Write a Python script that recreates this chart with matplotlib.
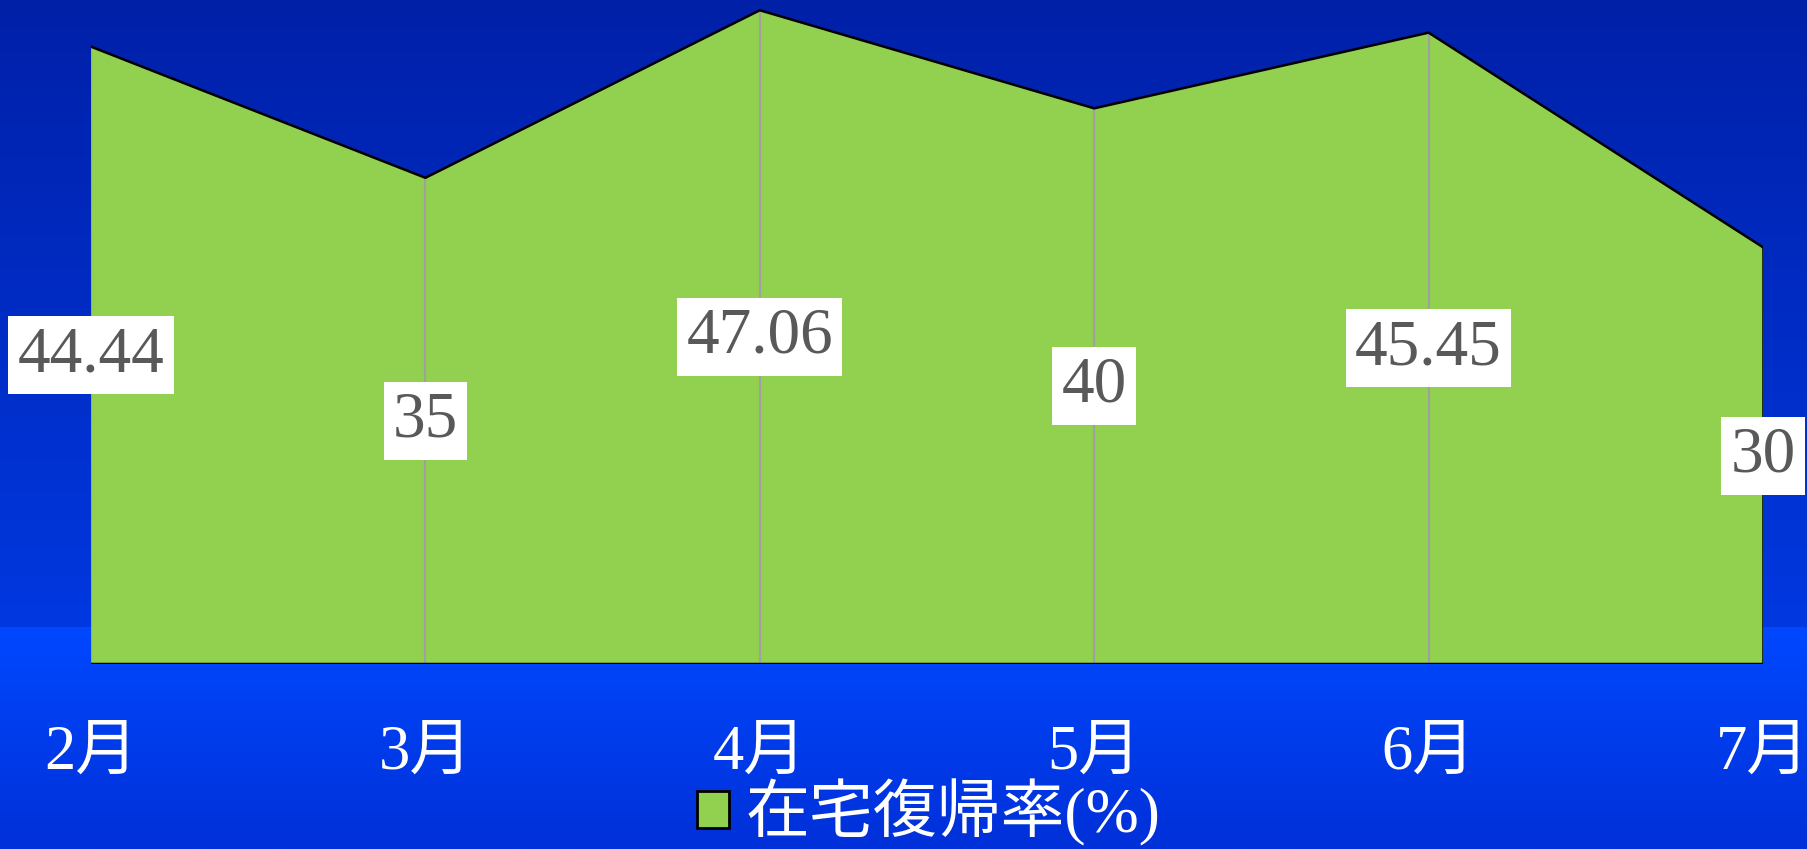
import numpy as np
import matplotlib.pyplot as plt
from matplotlib.patches import Patch

# データ
months = ["2月", "3月", "4月", "5月", "6月", "7月"]
rate = [44.44, 35, 47.06, 40, 45.45, 30]
label_text = ["44.44", "35", "47.06", "40", "45.45", "30"]
series_name = "在宅復帰率(%)"

green = "#92D050"
cjk = ["Liberation Serif", "Noto Sans CJK JP"]

fig = plt.figure(figsize=(18.07, 8.49), dpi=100)

# 背景グラデーション
bg = fig.add_axes([0, 0, 1, 1], zorder=0)
split = 627
upper = np.linspace(0, 1, split)[:, None] * (np.array([0x00, 0x38, 0xE0]) - np.array([0x00, 0x20, 0xA8])) + np.array([0x00, 0x20, 0xA8])
lower = np.linspace(0, 1, 849 - split)[:, None] * (np.array([0x00, 0x30, 0xD8]) - np.array([0x00, 0x48, 0xFF])) + np.array([0x00, 0x48, 0xFF])
grad = np.vstack([upper, lower]) / 255.0
bg.imshow(np.repeat(grad[:, None, :], 2, axis=1), aspect="auto", extent=[0, 1, 0, 1])
bg.axis("off")

ax = fig.add_axes([91 / 1807, 185 / 849, 1672 / 1807, 664 / 849], zorder=1)
ax.patch.set_alpha(0)
x = np.arange(len(months))

ax.fill_between(x, rate, 0, facecolor=green, edgecolor="none", zorder=2)
ax.vlines(x[:-1], 0, rate[:-1], color="#A0A0A0", linewidth=1.5, zorder=3)
ax.plot(x, rate, color="black", linewidth=1.8, zorder=4)
ax.plot([x[-1], x[-1]], [0, rate[-1]], color="black", linewidth=1.8, zorder=4)
ax.axhline(0, color="black", linewidth=2.5, zorder=4)

for xi, v, t in zip(x, rate, label_text):
    ax.text(xi, v / 2, t, ha="center", va="center", fontsize=47,
            family="Liberation Serif", color="#595959", zorder=5,
            bbox=dict(facecolor="white", edgecolor="none", boxstyle="square,pad=0.14"))

ax.set_xlim(0, len(months) - 1)
ax.set_ylim(0, 47.8)
ax.set_xticks(x)
ax.set_xticklabels(months, fontsize=45, color="white", family=cjk)
ax.tick_params(axis="x", length=0, pad=44)
ax.set_yticks([])
for s in ax.spines.values():
    s.set_visible(False)

handle = Patch(facecolor=green, edgecolor="black", linewidth=2)
leg = fig.legend([handle], [series_name], loc="center", bbox_to_anchor=(0.514, 0.043),
                 frameon=False, handlelength=0.5, handleheight=0.5, handletextpad=0.25,
                 borderpad=0.1, prop={"family": cjk, "size": 46})
for t in leg.get_texts():
    t.set_color("white")

fig.savefig("out.png", dpi=100)
